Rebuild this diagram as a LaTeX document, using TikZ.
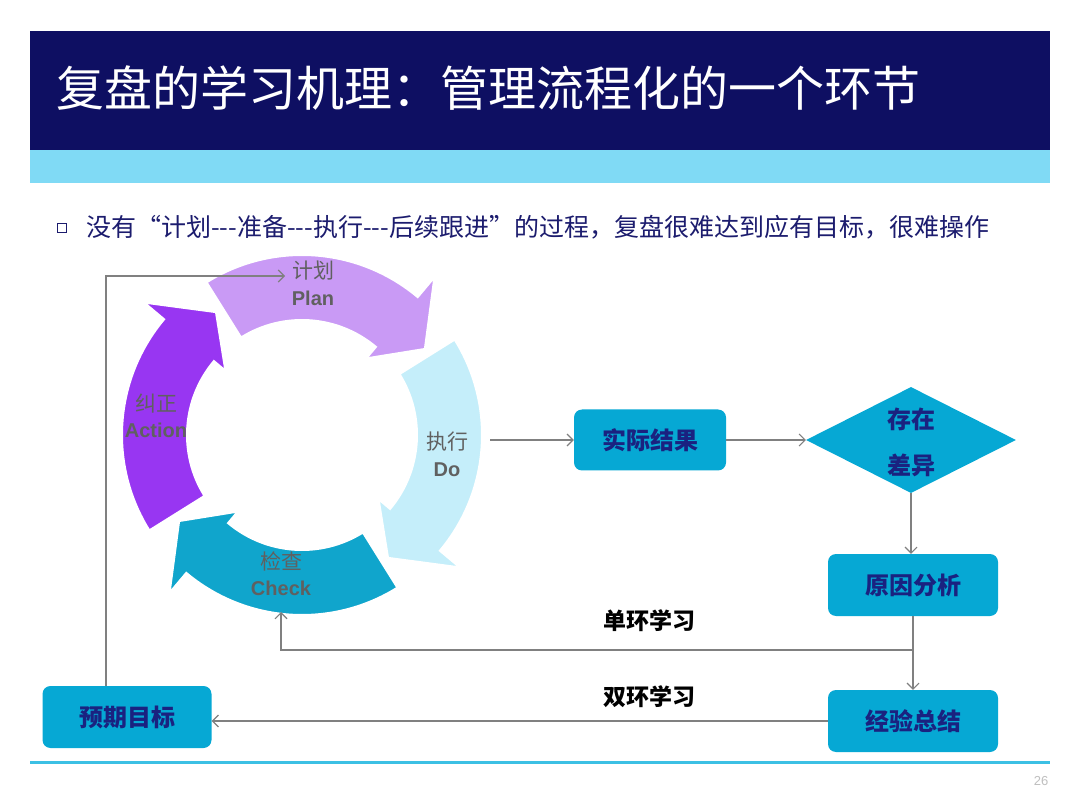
\documentclass[tikz,border=0pt]{standalone}
\usepackage{fontspec}
\setmainfont{Liberation Sans}
\newfontfamily\cjk[Ligatures=TeXOff]{Noto Sans CJK SC}
\newfontfamily\lat{Liberation Sans}
\usetikzlibrary{arrows.meta,shapes.geometric}
\definecolor{navy}{RGB}{14,15,98}
\definecolor{bandc}{RGB}{128,218,245}
\definecolor{navytext}{RGB}{28,28,110}
\definecolor{planc}{RGB}{201,154,245}
\definecolor{doc}{RGB}{197,238,250}
\definecolor{checkc}{RGB}{16,165,204}
\definecolor{actc}{RGB}{152,54,242}
\definecolor{boxc}{RGB}{6,168,212}
\definecolor{boxtext}{RGB}{26,34,128}
\definecolor{linegray}{RGB}{128,128,128}
\definecolor{labgray}{RGB}{96,96,96}
\definecolor{bottomc}{RGB}{60,192,228}
\tikzset{
  box/.style={fill=boxc, rounded corners=8pt, text=boxtext, inner sep=0,
    font=\cjk\bfseries\fontsize{24}{26}\selectfont},
  boxtxt/.style={text=boxtext, inner sep=0, font=\cjk\bfseries\fontsize{24}{26}\selectfont},
  lab/.style={text=black, inner sep=0, font=\cjk\bfseries\fontsize{23}{26}\selectfont},
  cyccn/.style={text=labgray, inner sep=0, font=\cjk\fontsize{21}{24}\selectfont},
  cycen/.style={text=labgray, inner sep=0, font=\lat\bfseries\fontsize{20}{24}\selectfont},
  conn/.style={draw=linegray, line width=1.1pt},
  arr/.style={-{Straight Barb[length=6pt,width=12pt]}},
}
\begin{document}
\begin{tikzpicture}[x=1pt,y=-1pt]
\useasboundingbox (0,0) rectangle (1080,810);
\fill[white] (0,0) rectangle (1080,810);
% title band
\fill[navy] (30,31) rectangle (1050,150);
\fill[bandc] (30,150) rectangle (1050,183);
\node[anchor=west, text=white, inner sep=0, font=\cjk\fontsize{48}{50}\selectfont] (title) at (56,88) {复盘的学习机理：管理流程化的一个环节};
% bullet line
\node[draw=navytext, line width=1.3pt, minimum size=9pt, inner sep=0] (bul) at (62,228) {};
\node[anchor=west, inner sep=0, text=navytext, font=\cjk\fontsize{25}{28}\selectfont] (intro) at (86,227) {没有“计划---准备---执行---后续跟进”的过程，复盘很难达到应有目标，很难操作};
% cycle
\begin{scope}[shift={(302,435)}, yscale=-1]
\foreach \t/\c in {122/planc,32/doc,-58/checkc,212/actc}{
  \pgfmathsetmacro\b{\t-72}
  \pgfmathsetmacro\p{\t-87}
  \filldraw[fill=\c, draw=white, line width=2pt, line join=miter]
    (\t:180) arc[start angle=\t, end angle=\b, radius=180]
    -- (\b:206) -- (\p:150) -- (\b:100) -- (\b:115)
    arc[start angle=\b, end angle=\t, radius=115] -- cycle;
}
\end{scope}
\node[cyccn] (plancn) at (313,271) {计划};
\node[cycen] (planen) at (313,298) {Plan};
\node[cyccn] (docn) at (447,442) {执行};
\node[cycen] (doen) at (447,470) {Do};
\node[cyccn] (checkcn) at (281,561) {检查};
\node[cycen] (checken) at (281,588) {Check};
\node[cyccn] (actcn) at (156,404) {纠正};
\node[cycen] (acten) at (156,430) {Action};
% flow nodes
\node[box, minimum width=152pt, minimum height=61pt] (result) at (650,440) {实际结果};
\node[diamond, fill=boxc, minimum width=210pt, minimum height=106pt, inner sep=0] (diff) at (911,440) {};
\node[boxtxt] (diff1) at (911,419) {存在};
\node[boxtxt] (diff2) at (911,465) {差异};
\node[box, minimum width=170pt, minimum height=62pt] (cause) at (913,585) {原因分析};
\node[box, minimum width=170pt, minimum height=62pt] (exp) at (913,721) {经验总结};
\node[box, minimum width=169pt, minimum height=62pt] (goal) at (127,717) {预期目标};
\node[lab] (single) at (649,621) {单环学习};
\node[lab] (double) at (649,697) {双环学习};
% connectors
\coordinate (doout) at (490,440);
\coordinate (branch) at (913,650);
\coordinate (checkin) at (281,612);
\coordinate (goalout) at ([xshift=-21pt]goal.north);
\coordinate (planin) at (285,276);
\draw[conn,arr] (doout) -- (result.west);
\draw[conn,arr] (result.east) -- (diff.west);
\draw[conn,arr] (diff.south) -- (diff.south |- cause.north);
\draw[conn,arr] (cause.south) -- (exp.north);
\draw[conn,arr] (branch) -| (checkin);
\draw[conn,arr] (exp.west) -- (exp.west -| goal.east);
\draw[conn,arr] (goalout) |- (planin);
% footer
\draw[bottomc, line width=3pt] (30,762) -- (1050,762);
\node[text=black!25, inner sep=0, font=\lat\fontsize{13}{13}\selectfont] (pg) at (1041,781) {26};
\end{tikzpicture}
\end{document}
